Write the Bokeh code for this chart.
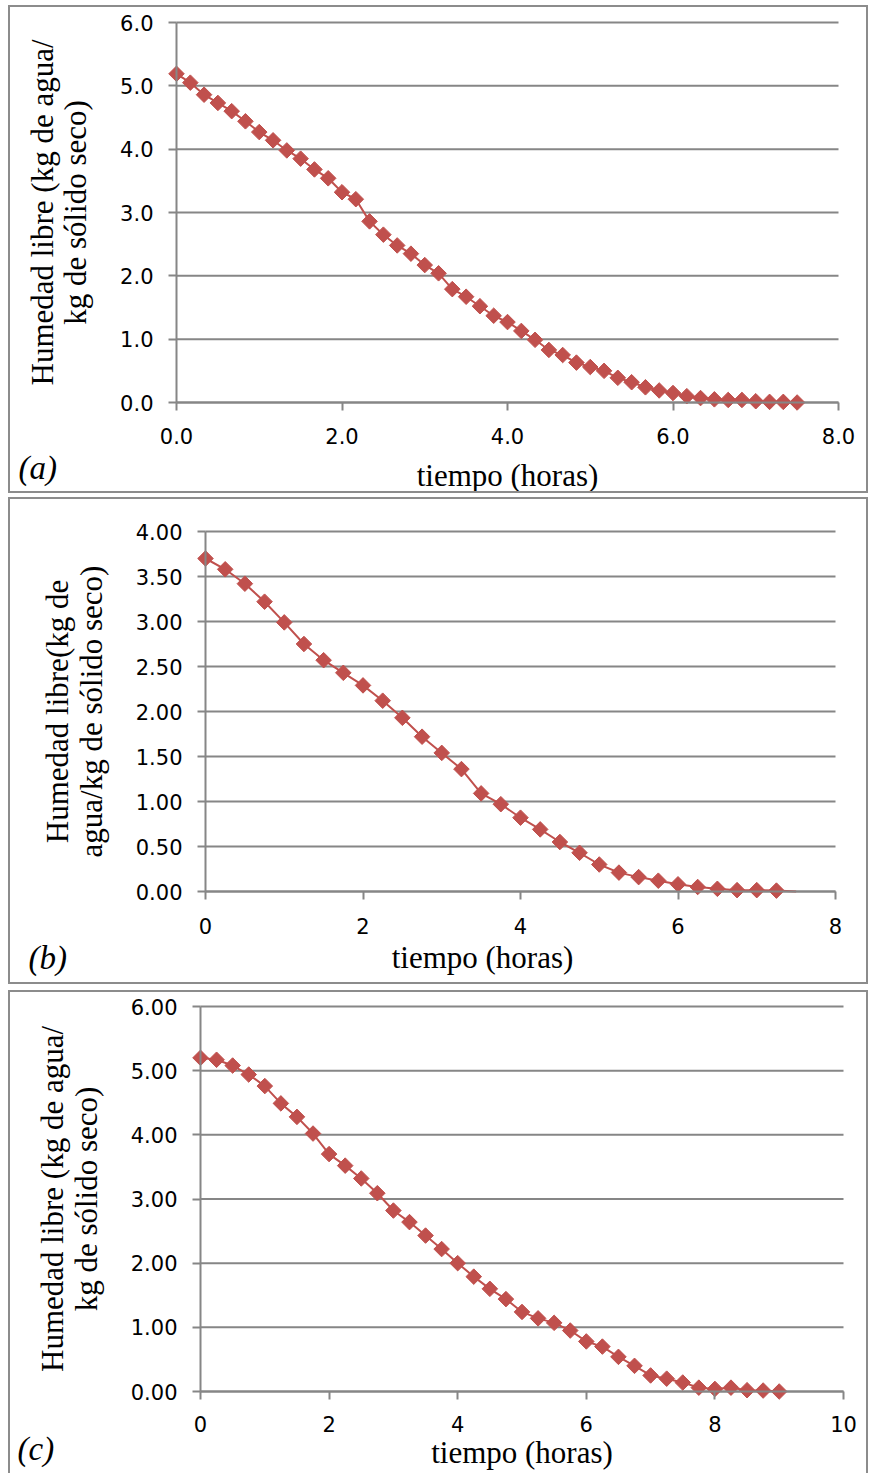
import numpy as np
from bokeh.plotting import figure
from bokeh.layouts import column
from bokeh.models import FixedTicker, PrintfTickFormatter, Label, Range1d
from bokeh.embed import file_html
from bokeh.resources import INLINE

# ---------------- data ----------------
# (a) 10-minute readings
time_a = [0.0, 0.167, 0.333, 0.5, 0.667, 0.833, 1.0, 1.167, 1.333, 1.5,
          1.667, 1.833, 2.0, 2.167, 2.333, 2.5, 2.667, 2.833, 3.0, 3.167,
          3.333, 3.5, 3.667, 3.833, 4.0, 4.167, 4.333, 4.5, 4.667, 4.833,
          5.0, 5.167, 5.333, 5.5, 5.667, 5.833, 6.0, 6.167, 6.333, 6.5,
          6.667, 6.833, 7.0, 7.167, 7.333, 7.5]
moist_a = [5.19, 5.05, 4.86, 4.73, 4.60, 4.44, 4.27, 4.14, 3.98, 3.85,
           3.68, 3.54, 3.32, 3.21, 2.86, 2.65, 2.48, 2.35, 2.17, 2.04,
           1.79, 1.67, 1.52, 1.37, 1.27, 1.13, 0.99, 0.83, 0.75, 0.63,
           0.56, 0.50, 0.39, 0.32, 0.24, 0.19, 0.15, 0.10, 0.07, 0.05,
           0.04, 0.04, 0.02, 0.01, 0.01, 0.0]

# (b) 15-minute readings (last line point has no marker)
time_b = [0.0, 0.25, 0.5, 0.75, 1.0, 1.25, 1.5, 1.75, 2.0, 2.25,
          2.5, 2.75, 3.0, 3.25, 3.5, 3.75, 4.0, 4.25, 4.5, 4.75,
          5.0, 5.25, 5.5, 5.75, 6.0, 6.25, 6.5, 6.75, 7.0, 7.25, 7.5]
moist_b = [3.70, 3.58, 3.42, 3.22, 2.99, 2.75, 2.57, 2.43, 2.29, 2.12,
           1.93, 1.72, 1.54, 1.36, 1.09, 0.97, 0.82, 0.69, 0.55, 0.43,
           0.30, 0.21, 0.16, 0.12, 0.08, 0.05, 0.03, 0.015, 0.015, 0.01, 0.0]

# (c) 15-minute readings
time_c = [0.0, 0.25, 0.5, 0.75, 1.0, 1.25, 1.5, 1.75, 2.0, 2.25,
          2.5, 2.75, 3.0, 3.25, 3.5, 3.75, 4.0, 4.25, 4.5, 4.75,
          5.0, 5.25, 5.5, 5.75, 6.0, 6.25, 6.5, 6.75, 7.0, 7.25,
          7.5, 7.75, 8.0, 8.25, 8.5, 8.75, 9.0]
moist_c = [5.20, 5.17, 5.08, 4.94, 4.76, 4.49, 4.28, 4.02, 3.70, 3.52,
           3.32, 3.09, 2.82, 2.64, 2.43, 2.22, 2.00, 1.79, 1.60, 1.44,
           1.24, 1.14, 1.07, 0.95, 0.78, 0.70, 0.54, 0.40, 0.25, 0.20,
           0.14, 0.06, 0.04, 0.06, 0.02, 0.015, 0.0]

xticks_a = [0, 2, 4, 6, 8]
yticks_a = [0, 1, 2, 3, 4, 5, 6]
xticks_b = [0, 2, 4, 6, 8]
yticks_b = [0, 0.5, 1.0, 1.5, 2.0, 2.5, 3.0, 3.5, 4.0]
xticks_c = [0, 2, 4, 6, 8, 10]
yticks_c = [0, 1, 2, 3, 4, 5, 6]

xlabel = "tiempo (horas)"
ylabel_a = "Humedad libre (kg de agua/\nkg de sólido seco)"
ylabel_b = "Humedad libre(kg de\nagua/kg de sólido seco)"
ylabel_c = "Humedad libre (kg de agua/\nkg de sólido seco)"

RED = "#c0504d"
GRID = "#868686"
BORDER = "#8c8c8c"
SERIF = "Liberation Serif"
SANS = "DejaVu Sans"
W = 860  # canvas width (border-box: 2px border each side is drawn over it)


def panel(xs, ys, xmax, ymax, xt, yt, xfmt, yfmt, H, plot_px, margin, ylab, xlab,
          xlab_standoff, xtick_standoff, tag, tag_px, mark_n=None, extra_styles=None,
          xlab_label_px=None):
    # plot_px = (left, right, top, bottom) pixel positions of the data box in the canvas
    px0, px1, pyt, pyb = plot_px
    sx = (px1 - px0) / xmax
    sy = (pyb - pyt) / ymax
    xr = Range1d(-px0 / sx, xmax + (W - px1) / sx)
    yr = Range1d(-(H - pyb) / sy, ymax + pyt / sy)

    def to_data(px, py):
        return (px - px0) / sx, (pyb - py) / sy

    p = figure(width=W, height=H, x_range=xr, y_range=yr,
               output_backend="svg", toolbar_location=None,
               min_border=0, margin=margin)
    styles = {"border": "2px solid " + BORDER}
    if extra_styles:
        styles.update(extra_styles)
    p.styles = styles
    p.outline_line_color = None
    p.grid.visible = False

    # horizontal gridlines spanning the data box
    p.segment(x0=[0] * len(yt), x1=[xmax] * len(yt), y0=yt, y1=yt,
              line_color=GRID, line_width=2)

    for ax, ticks, fmt, bnd in ((p.xaxis[0], xt, xfmt, (0, xmax)),
                                (p.yaxis[0], yt, yfmt, (0, ymax))):
        ax.fixed_location = 0
        ax.bounds = bnd
        ax.ticker = FixedTicker(ticks=ticks)
        ax.formatter = PrintfTickFormatter(format=fmt)
        ax.axis_line_color = GRID
        ax.axis_line_width = 2
        ax.major_tick_line_color = GRID
        ax.major_tick_line_width = 2
        ax.major_tick_out = 8
        ax.major_tick_in = 0
        ax.minor_tick_line_color = None
        ax.major_label_text_font = SANS
        ax.major_label_text_font_size = "21px"
        ax.major_label_text_color = "black"
        ax.axis_label_text_font = SERIF
        ax.axis_label_text_font_size = "31px"
        ax.axis_label_text_font_style = "normal"
        ax.axis_label_text_color = "black"

    p.yaxis.major_label_standoff = 15
    p.xaxis.major_label_standoff = xtick_standoff
    p.yaxis.axis_label = ylab
    p.yaxis.axis_label_text_line_height = 0.95
    p.yaxis.axis_label_standoff = 24
    if xlab is not None:
        p.xaxis.axis_label = xlab
        p.xaxis.axis_label_standoff = xlab_standoff

    p.line(xs, ys, line_color=RED, line_width=2)
    n = len(xs) if mark_n is None else mark_n
    p.scatter(xs[:n], ys[:n], marker="square", angle=np.pi / 4, size=11,
              fill_color=RED, line_color=RED, line_width=1)

    tx, ty = to_data(*tag_px)
    p.add_layout(Label(x=tx, y=ty, text=tag, text_font=SERIF, text_font_size="33px",
                       text_font_style="italic", text_color="black",
                       text_baseline="alphabetic", text_align="left"))
    if xlab_label_px is not None:
        lx, ly = to_data(*xlab_label_px)
        p.add_layout(Label(x=lx, y=ly, text=xlabel, text_font=SERIF,
                           text_font_size="31px", text_color="black",
                           text_baseline="alphabetic", text_align="center"))
    return p


pa = panel(time_a, moist_a, 8, 6, xticks_a, yticks_a, "%.1f", "%.1f", 488,
           (166, 828, 15, 395), (5, 0, 0, 8), ylabel_a, xlabel, 11, 17,
           "(a)", (8, 460))
pb = panel(time_b, moist_b, 8, 4, xticks_b, yticks_b, "%d", "%.2f", 487,
           (195, 825, 32, 392), (4, 0, 0, 8), ylabel_b, None, 6, 18,
           "(b)", (18, 458), mark_n=len(time_b) - 1, xlab_label_px=(472, 458))
pc = panel(time_c, moist_c, 10, 6, xticks_c, yticks_c, "%d", "%.2f", 483,
           (190, 833, 14, 399), (6, 0, 0, 8), ylabel_c, xlabel, 0, 16,
           "(c)", (7, 456), extra_styles={"border-bottom": "none"})

layout = column(pa, pb, pc)
open("out.html", "w").write(file_html(layout, INLINE))
